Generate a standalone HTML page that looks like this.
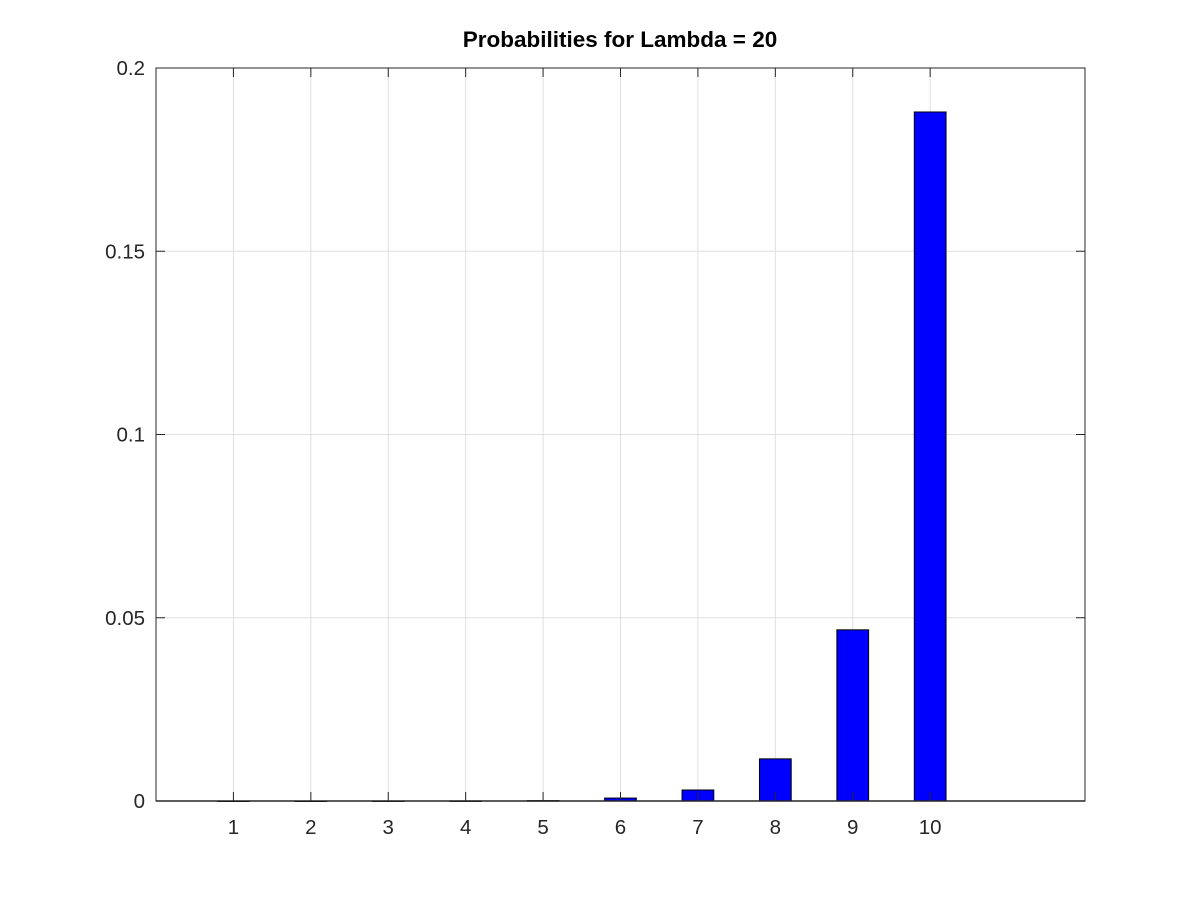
<!DOCTYPE html>
<html><head><meta charset="utf-8"><style>
html,body{margin:0;padding:0;background:#fff;}
svg{display:block;font-family:"Liberation Sans",sans-serif;}
</style></head><body>
<svg id="chart" width="1200" height="900">
<rect x="0" y="0" width="1200" height="900" fill="#fff"/>
<text x="620" y="47" text-anchor="middle" font-size="22.5" font-weight="bold">Probabilities for Lambda = 20</text>
<g id="grid"></g><g id="bars"></g><g id="axes"></g>
</svg>
<script>
const categories = [1,2,3,4,5,6,7,8,9,10];
const values = [0.00000,0.00000,0.00001,0.00002,0.0001,0.0008,0.0030,0.0115,0.0467,0.1880];
const yTicks = [0,0.05,0.1,0.15,0.2];
const yTickLabels = ["0","0.05","0.1","0.15","0.2"];
const xMin=0,xMax=12,yMin=0,yMax=0.2;
const L=156,R=1085,T=68,B=801,barW=0.41;
const NS="http://www.w3.org/2000/svg";
function xs(v){return L+(v-xMin)/(xMax-xMin)*(R-L);}
function ys(v){return B-(v-yMin)/(yMax-yMin)*(B-T);}
function mk(tag,attrs,parent){const e=document.createElementNS(NS,tag);for(const k in attrs)e.setAttribute(k,attrs[k]);parent.appendChild(e);return e;}
const grid=document.getElementById('grid'),bars=document.getElementById('bars'),axes=document.getElementById('axes');
categories.forEach(c=>{
  const g=mk('line',{x1:xs(c),x2:xs(c),y1:T,y2:B,stroke:'#e0e0e0','stroke-width':1},grid);
  
  
});
yTicks.forEach(t=>{
  const g=mk('line',{x1:L,x2:R,y1:ys(t),y2:ys(t),stroke:'#e0e0e0','stroke-width':1},grid);
  
  
});
categories.forEach((c,i)=>{
  const x0=xs(c-barW/2),x1=xs(c+barW/2),y=ys(values[i]);
  const r=mk('rect',{x:x0,y:y,width:x1-x0,height:Math.max(B-y,0.5),fill:'#0000ff',stroke:'#000','stroke-width':1},bars);
  
  
});
const box=mk('rect',{x:L,y:T,width:R-L,height:B-T,fill:'none',stroke:'#262626','stroke-width':1},axes);


const base=mk('line',{x1:L,x2:R,y1:B,y2:B,stroke:'#262626','stroke-width':1.5},axes);


categories.forEach(c=>{
  mk('line',{x1:xs(c),x2:xs(c),y1:B,y2:B-9,stroke:'#262626'},axes);
  mk('line',{x1:xs(c),x2:xs(c),y1:T,y2:T+9,stroke:'#262626'},axes);
  const t=mk('text',{x:xs(c),y:B+33,'text-anchor':'middle','font-size':20.5,fill:'#262626'},axes);
  t.textContent=c;
  
  
});
yTicks.forEach((v,i)=>{
  mk('line',{x1:L,x2:L+9,y1:ys(v),y2:ys(v),stroke:'#262626'},axes);
  mk('line',{x1:R,x2:R-9,y1:ys(v),y2:ys(v),stroke:'#262626'},axes);
  const t=mk('text',{x:L-11,y:ys(v)+7,'text-anchor':'end','font-size':20.5,fill:'#262626'},axes);
  t.textContent=yTickLabels[i];
  
  
});
</script>
</body></html>
